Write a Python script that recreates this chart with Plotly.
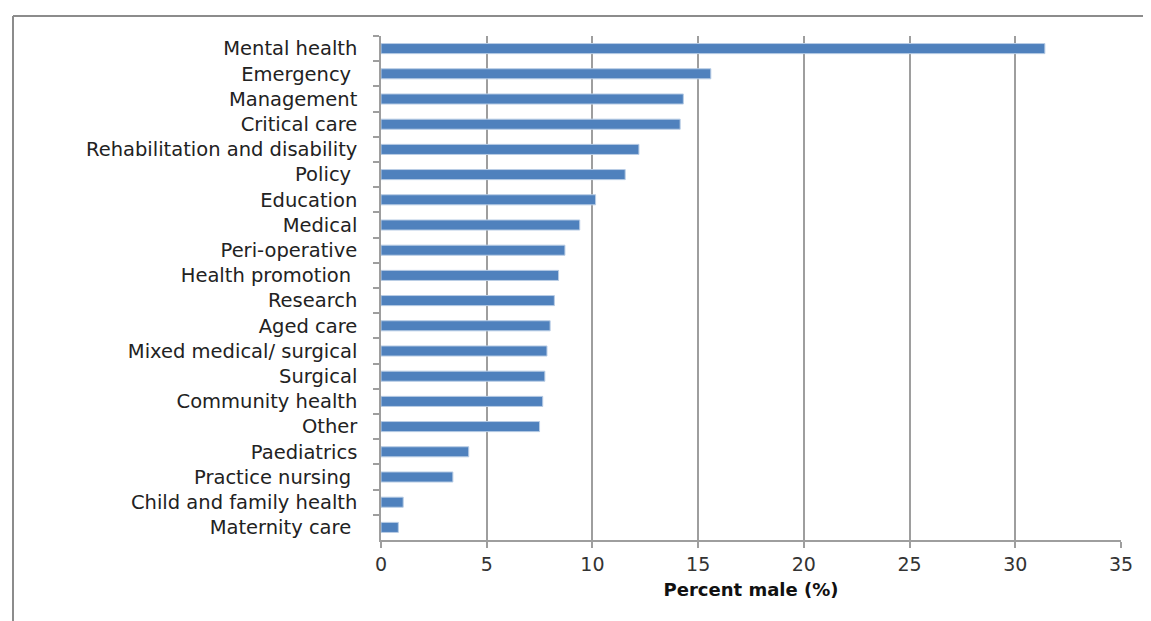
import plotly.graph_objects as go

categories = ["Mental health", "Emergency\u00a0", "Management", "Critical care",
              "Rehabilitation and disability", "Policy\u00a0", "Education", "Medical",
              "Peri-operative", "Health promotion\u00a0", "Research", "Aged care",
              "Mixed medical/ surgical", "Surgical", "Community health", "Other",
              "Paediatrics", "Practice nursing\u00a0", "Child and family health",
              "Maternity care\u00a0"]
values = [31.4, 15.6, 14.3, 14.15, 12.2, 11.55, 10.15, 9.4, 8.7, 8.4, 8.2, 8.0,
          7.85, 7.75, 7.65, 7.5, 4.15, 3.4, 1.05, 0.82]
x_ticks = [0, 5, 10, 15, 20, 25, 30, 35]
x_title = "Percent male (%)"

fig = go.Figure(go.Bar(
    y=categories, x=values, orientation="h",
    marker=dict(color="#4F81BD", line=dict(color="#B9CDE5", width=1)),
))

# page body has an 8px default margin, so the figure is offset by (8, 8)
W, H = 1151, 621
L, R, T, B = 373, 38, 28, 89
pw, ph = W - L - R, H - T - B

fig.update_layout(
    width=W, height=H,
    margin=dict(l=L, r=R, t=T, b=B, pad=0),
    paper_bgcolor="white", plot_bgcolor="white",
    bargap=0.6,
    showlegend=False,
    font=dict(family="DejaVu Sans", size=19, color="#222222"),
)
fig.update_xaxes(
    range=[0, 35], tickvals=x_ticks, ticktext=[str(v) for v in x_ticks],
    showgrid=True, gridcolor="#9E9E9E", gridwidth=1.5,
    showline=True, linecolor="#9E9E9E", linewidth=1.5,
    ticks="outside", ticklen=6, tickcolor="#9E9E9E", tickwidth=1.5,
    tickfont=dict(size=19, color="#333333"),
    title=dict(text=x_title, font=dict(size=18, color="#111111", weight="bold"), standoff=10),
    zeroline=False, fixedrange=True,
)
fig.update_yaxes(
    autorange="reversed", categoryorder="array", categoryarray=categories,
    showgrid=False, showline=True, linecolor="#9E9E9E", linewidth=1.5,
    ticks="outside", ticklen=6, tickcolor="#9E9E9E", tickwidth=1.5,
    tickson="boundaries", ticklabelstandoff=18,
    tickfont=dict(size=19.5, color="#222222"),
    fixedrange=True,
)

# outer chart frame (top and left edges visible)
fx = (5 - L) / pw
fy = (H - B - 8) / ph
fig.add_shape(type="line", xref="paper", yref="paper", x0=fx, x1=1.2, y0=fy, y1=fy,
              line=dict(color="#8C8C8C", width=2))
fig.add_shape(type="line", xref="paper", yref="paper", x0=fx, x1=fx, y0=fy, y1=-0.3,
              line=dict(color="#8C8C8C", width=2))

fig.write_html("out.html")
